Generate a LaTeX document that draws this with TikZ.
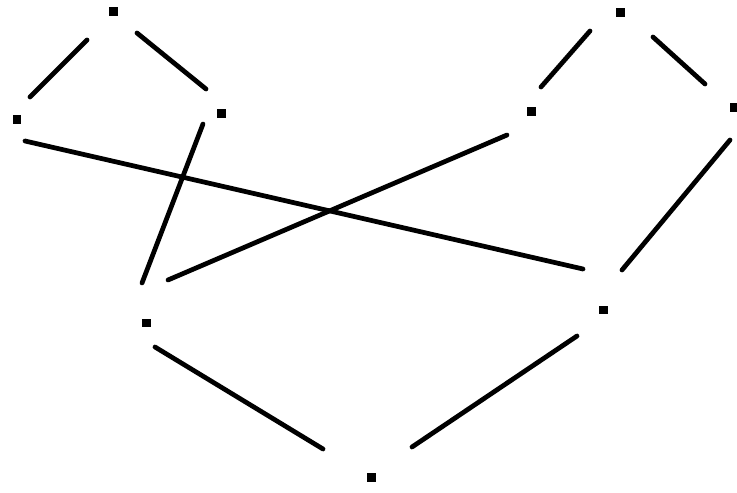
\documentclass[tikz,border=0pt]{standalone}
\begin{document}
\begin{tikzpicture}[x=0.02cm, y=-0.02cm,
    vertex/.style={rectangle, fill=black, minimum size=0.18cm, inner sep=0pt},
    link/.style={line width=2.7pt, line cap=round}]
    % Frame
    \useasboundingbox (0, 0) rectangle (737, 493);

    % Vertices
    \node[vertex] (A) at (113, 12) {};
    \node[vertex] (B) at (17, 120) {};
    \node[vertex] (C) at (221, 114) {};
    \node[vertex] (D) at (620, 13) {};
    \node[vertex] (E) at (531, 112) {};
    \node[vertex] (F) at (734, 108) {};
    \node[vertex] (G) at (146, 323) {};
    \node[vertex] (H) at (603, 310) {};
    \node[vertex] (I) at (371, 477) {};

    % Left triangle
    \draw[link] ([shift={(-26, 28)}]A.center) -- ([shift={(13, -23)}]B.center);
    \draw[link] ([shift={(24, 21)}]A.center) -- ([shift={(-15, -25)}]C.center);

    % Right triangle
    \draw[link] ([shift={(-30, 18)}]D.center) -- ([shift={(10, -25)}]E.center);
    \draw[link] ([shift={(33, 24)}]D.center) -- ([shift={(-29, -24)}]F.center);

    % Crossing links
    \draw[link] ([shift={(8, 21)}]B.center) -- ([shift={(-20, -41)}]H.center);
    \draw[link] ([shift={(-18, 10)}]C.center) -- ([shift={(-4, -40)}]G.center);
    \draw[link] ([shift={(-24, 23)}]E.center) -- ([shift={(22, -43)}]G.center);
    \draw[link] ([shift={(-4, 32)}]F.center) -- ([shift={(19, -40)}]H.center);

    % Bottom
    \draw[link] ([shift={(9, 24)}]G.center) -- ([shift={(-48, -28)}]I.center);
    \draw[link] ([shift={(-26, 26)}]H.center) -- ([shift={(41, -30)}]I.center);
\end{tikzpicture}
\end{document}
